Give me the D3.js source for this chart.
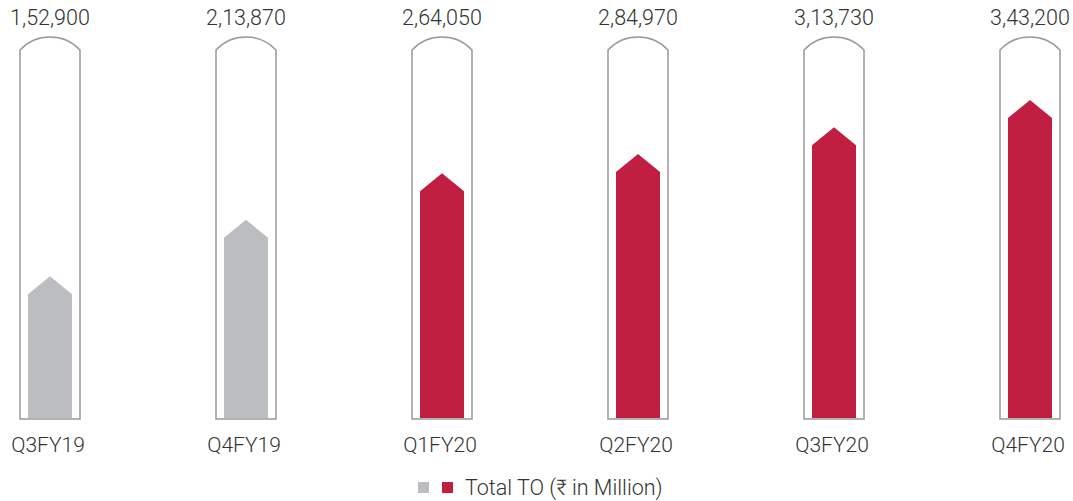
<!DOCTYPE html>
<meta charset="utf-8">
<head>
	<title>Total TO</title>
</head>
<style>
body{
	margin: 0;
	background: #fff;
}
text{
	font-family: Roboto, "Noto Sans", sans-serif;
	font-weight: 300;
	fill: #333;
}
.tube{
	fill: #fff;
	stroke: #999;
	stroke-width: 1.5;
}
</style>
<body>
<svg width="1073" height="501"></svg>

<script src="https://cdnjs.cloudflare.com/ajax/libs/d3/7.8.5/d3.min.js"></script>
<script>

var categories = ['Q3FY19', 'Q4FY19', 'Q1FY20', 'Q2FY20', 'Q3FY20', 'Q4FY20'];
var values = [152900, 213870, 264050, 284970, 313730, 343200];
var labels = ['1,52,900', '2,13,870', '2,64,050', '2,84,970', '3,13,730', '3,43,200'];
var colors = ['#bcbdc0', '#bcbdc0', '#c01f42', '#c01f42', '#c01f42', '#c01f42'];

var svg = d3.select('svg');

var x = d3.scalePoint()
	.domain(categories)
	.range([50, 1030]);

var y = d3.scaleLinear()
	.domain([0, 343200])
	.range([418, 100]);

var tubeW = 60, fillW = 44, tip = 18;

// tubes
svg.selectAll('.tube')
	.data(categories)
	.enter()
	.append('path')
	.attr('class', 'tube')
	.attr('d', function(d){
		var l = x(d) - tubeW/2, r = x(d) + tubeW/2;
		return 'M' + l + ',419 V50 A41,41 0 0 1 ' + r + ',50 V419 Z';
	});

// fills
svg.selectAll('.fill')
	.data(values)
	.enter()
	.append('path')
	.attr('class', 'fill')
	.attr('fill', function(d, i){ return colors[i]; })
	.attr('d', function(d, i){
		var c = x(categories[i]), l = c - fillW/2, r = c + fillW/2;
		var top = y(d);
		return 'M' + l + ',418 V' + (top + tip) + ' L' + c + ',' + top +
			' L' + r + ',' + (top + tip) + ' V418 Z';
	});

// value labels
svg.selectAll('.val')
	.data(labels)
	.enter()
	.append('text')
	.attr('class', 'val')
	.attr('x', function(d, i){ return x(categories[i]); })
	.attr('y', 25)
	.attr('text-anchor', 'middle')
	.style('font-size', '21.5px')
	.text(function(d){ return d; });

// category labels
svg.selectAll('.cat')
	.data(categories)
	.enter()
	.append('text')
	.attr('class', 'cat')
	.attr('x', function(d){ return x(d) - 2; })
	.attr('y', 452)
	.attr('text-anchor', 'middle')
	.style('font-size', '21px')
	.text(function(d){ return d; });

// legend
var legend = svg.append('g');
legend.append('rect').attr('x', 418).attr('y', 482).attr('width', 11).attr('height', 11).attr('fill', '#bcbdc0');
legend.append('rect').attr('x', 442).attr('y', 482).attr('width', 11).attr('height', 11).attr('fill', '#c01f42');
legend.append('text')
	.attr('x', 465)
	.attr('y', 495)
	.style('font-size', '21.5px')
	.text('Total TO (₹ in Million)');

</script>
</body>
